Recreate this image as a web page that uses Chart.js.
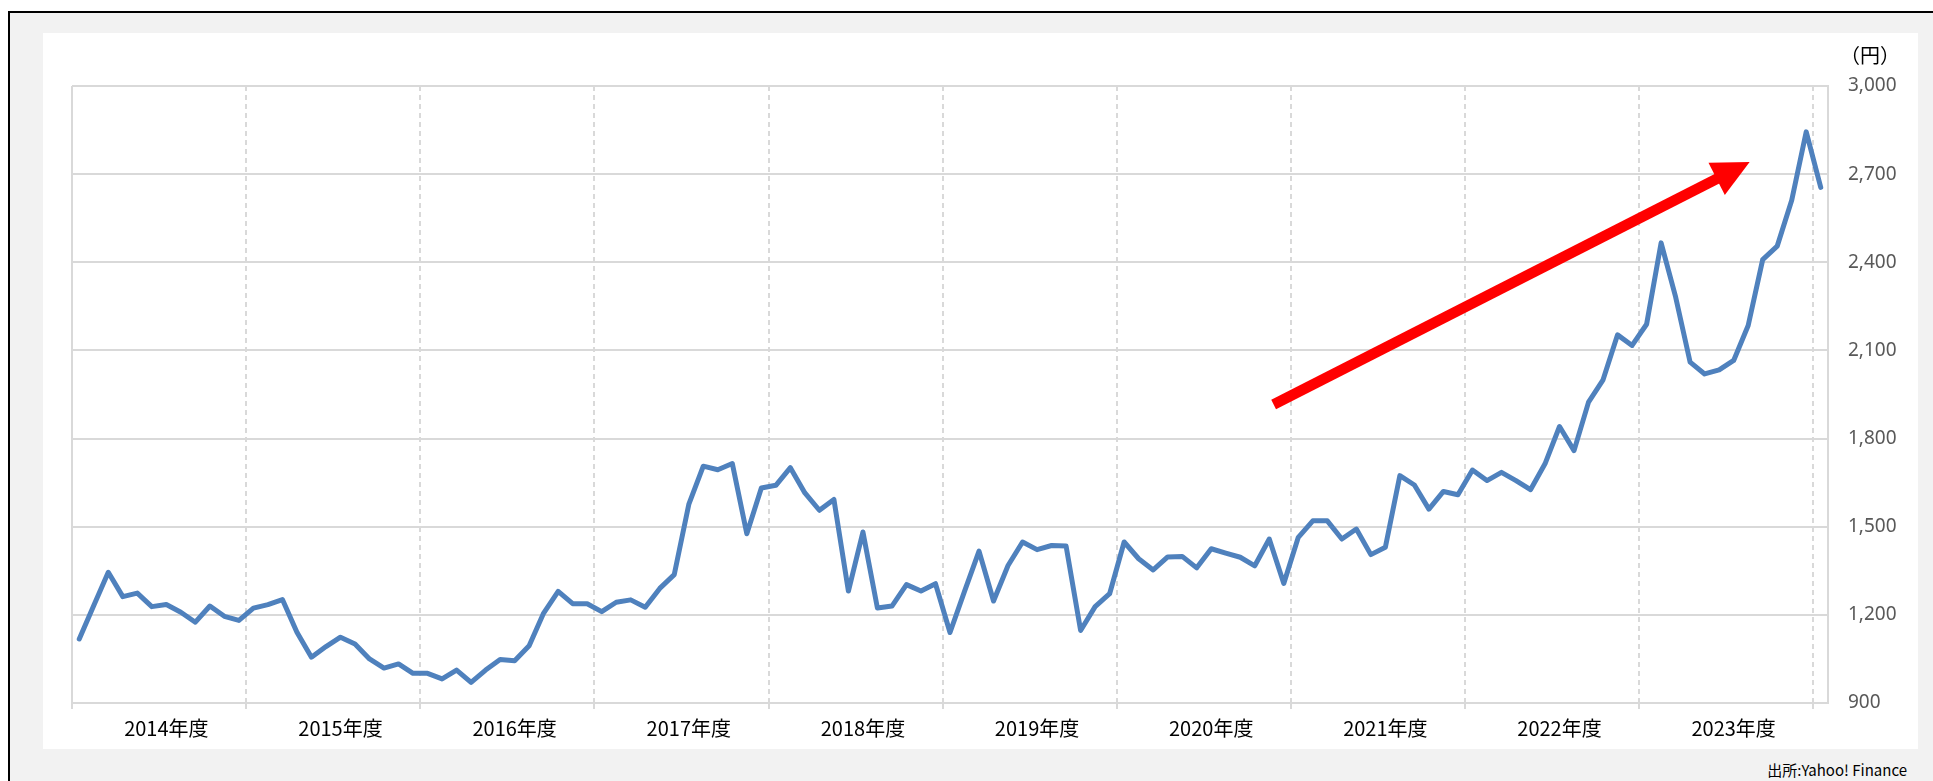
<!DOCTYPE html>
<html lang="ja">
<head>
<meta charset="utf-8">
<title>株価推移</title>
<script src="https://cdn.jsdelivr.net/npm/chart.js@4.4.1/dist/chart.umd.min.js"></script>
<style>
  html, body { margin: 0; padding: 0; background: #fff; width: 1933px; height: 781px; overflow: hidden; }
  #frame { position: absolute; left: 8px; top: 11px; width: 1940px; height: 800px;
           border-left: 2px solid #000; border-top: 2px solid #000; background: #f2f2f2; }
  #panel { position: absolute; left: 43px; top: 33px; width: 1875px; height: 716px; background: #fff; }
  #unit { position: absolute; left: 1840px; top: 44px; font: 20px "Noto Sans CJK JP"; line-height: 22px; color: #000; }
  #source { position: absolute; right: 26px; top: 761px; font: 15px "Noto Sans CJK JP"; line-height: 18px; color: #000; }
</style>
</head>
<body>
<div id="frame"></div>
<div id="panel"><canvas id="chart"></canvas></div>
<div id="unit">（円）</div>
<div id="source">出所:Yahoo! Finance</div>

<script>
// x軸の年度ラベル
var years = ['2014年度', '2015年度', '2016年度', '2017年度', '2018年度',
             '2019年度', '2020年度', '2021年度', '2022年度', '2023年度'];

// 月次株価 2014/4 - 2024/4 (円)
var prices = [
  1118, 1232, 1345, 1262, 1274, 1228, 1235, 1209, 1175, 1230, 1195, 1181,
  1223, 1235, 1252, 1141, 1056, 1092, 1124, 1101, 1050, 1019, 1033, 1001,
  1001, 982, 1012, 970, 1012, 1048, 1044, 1095, 1206, 1280, 1238, 1238,
  1211, 1243, 1251, 1226, 1290, 1337, 1576, 1706, 1694, 1715, 1476, 1632,
  1641, 1701, 1615, 1556, 1593, 1281, 1482, 1223, 1230, 1303, 1281, 1306,
  1140, 1280, 1417, 1247, 1368, 1448, 1422, 1436, 1434, 1147, 1228, 1272,
  1448, 1391, 1353, 1397, 1399, 1360, 1425, 1410, 1396, 1367, 1458, 1307,
  1464, 1520, 1520, 1458, 1492, 1405, 1430, 1674, 1642, 1560, 1620, 1609,
  1693, 1657, 1685, 1657, 1626, 1714, 1841, 1759, 1924, 2000, 2153, 2117,
  2189, 2466, 2282, 2060, 2020, 2034, 2066, 2185, 2409, 2455, 2611, 2844,
  2655
];

// y軸の範囲
var yMin = 900, yMax = 3000, yStep = 300;

// 赤矢印 (月インデックス, 円)
var arrowFrom = [82.3, 1916];
var arrowTo = [115.1, 2741];

// 月ラベル
var months = [];
for (var n = 0; n < prices.length; n++) {
  var m = 3 + n; // 2014年4月から
  months.push((2014 + Math.floor(m / 12)) + '/' + (m % 12 + 1));
}

var gridColor = '#d9d9d9';

// プロット左端の枠線
var framePlugin = {
  id: 'frame',
  beforeDatasetsDraw: function(chart) {
    var a = chart.chartArea, ctx = chart.ctx;
    ctx.save();
    ctx.strokeStyle = gridColor;
    ctx.lineWidth = 2;
    ctx.beginPath();
    ctx.moveTo(a.left, a.top);
    ctx.lineTo(a.left, a.bottom);
    ctx.stroke();
    ctx.restore();
  }
};

// 上昇トレンドの矢印
var arrowPlugin = {
  id: 'arrow',
  afterDatasetsDraw: function(chart) {
    var xs = chart.scales.x, ys = chart.scales.y, ctx = chart.ctx;
    var x0 = xs.getPixelForValue(arrowFrom[0]), y0 = ys.getPixelForValue(arrowFrom[1]);
    var x1 = xs.getPixelForValue(arrowTo[0]), y1 = ys.getPixelForValue(arrowTo[1]);
    var dx = x1 - x0, dy = y1 - y0, len = Math.sqrt(dx * dx + dy * dy);
    var ux = dx / len, uy = dy / len;
    var head = 37, half = 18;
    var bx = x1 - ux * head, by = y1 - uy * head;
    ctx.save();
    ctx.strokeStyle = '#ff0000';
    ctx.fillStyle = '#ff0000';
    ctx.lineWidth = 10.5;
    ctx.lineCap = 'butt';
    ctx.beginPath();
    ctx.moveTo(x0, y0);
    ctx.lineTo(bx + ux * 2, by + uy * 2);
    ctx.stroke();
    ctx.beginPath();
    ctx.moveTo(x1, y1);
    ctx.lineTo(bx - uy * half, by + ux * half);
    ctx.lineTo(bx + uy * half, by - ux * half);
    ctx.closePath();
    ctx.fill();
    ctx.restore();
  }
};

var ctx = document.getElementById('chart').getContext('2d');
var chart = new Chart(ctx, {
  type: 'line',
  data: {
    labels: months,
    datasets: [{
      data: prices,
      borderColor: '#4f81bd',
      borderWidth: 5,
      pointRadius: 0,
      tension: 0,
      borderJoinStyle: 'round',
      borderCapStyle: 'round',
      fill: false
    }]
  },
  options: {
    responsive: true,
    maintainAspectRatio: false,
    animation: false,
    layout: { padding: { left: 29, top: 53, right: 0, bottom: 0 } },
    plugins: { legend: { display: false }, tooltip: { enabled: false } },
    scales: {
      x: {
        type: 'category',
        offset: true,
        grid: {
          offset: true,
          lineWidth: 2,
          color: function(c) {
            return (c.index % 12 === 0 && c.index > 0 && c.index <= 120) ? gridColor : 'rgba(0,0,0,0)';
          },
          drawTicks: true,
          tickLength: 6,
          tickWidth: 2,
          tickColor: function(c) {
            return (c.index % 12 === 0 && c.index <= 120) ? gridColor : 'rgba(0,0,0,0)';
          }
        },
        border: { display: true, color: gridColor, width: 2, dash: [5, 4] },
        ticks: {
          autoSkip: false,
          maxRotation: 0,
          minRotation: 0,
          padding: 7,
          color: '#000',
          font: { family: '"Noto Sans CJK JP"', size: 20 },
          callback: function(v, i) {
            return i % 12 === 6 ? years[(i - 6) / 12] : '';
          }
        },
        afterFit: function(s) { s.height = 46; }
      },
      y: {
        position: 'right',
        min: yMin,
        max: yMax,
        grid: { color: gridColor, lineWidth: 2, drawTicks: false },
        border: { display: true, color: gridColor, width: 2 },
        ticks: {
          stepSize: yStep,
          padding: 20,
          color: '#595959',
          font: { family: '"Noto Sans"', size: 19 },
          callback: function(v) { return v.toLocaleString('en-US'); }
        },
        afterFit: function(s) { s.width = 90; }
      }
    }
  },
  plugins: [framePlugin, arrowPlugin]
});
</script>
</body>
</html>
